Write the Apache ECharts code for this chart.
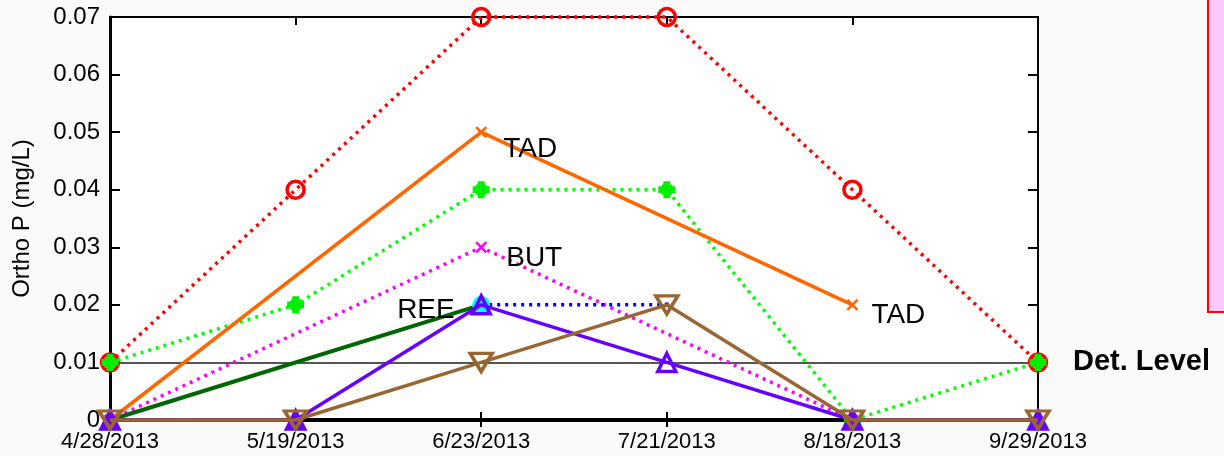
<!DOCTYPE html>
<html>
<head>
<meta charset="utf-8">
<script src="https://cdn.jsdelivr.net/npm/echarts@6/dist/echarts.min.js"></script>
<style>
html,body{margin:0;padding:0;background:#fafafa;}
#c{width:1224px;height:456px;}
</style>
</head>
<body>
<div id="c"></div>
<script>
const categories = ['4/28/2013','5/19/2013','6/23/2013','7/21/2013','8/18/2013','9/29/2013'];
const yTickValues = [0, 0.01, 0.02, 0.03, 0.04, 0.05, 0.06, 0.07];
const redDotted   = [0.01, 0.04, 0.07, 0.07, 0.04, 0.01];
const greenDotted = [0.01, 0.02, 0.04, 0.04, 0, 0.01];
const tadOrange   = [0, null, 0.05, null, 0.02, null];
const butMagenta  = [0, null, 0.03, null, 0, null];
const reeDkGreen  = [0, null, 0.02, null, null, null];
const blueDotted  = [null, null, 0.02, 0.02, null, null];
const purpleSolid = [0, 0, 0.02, 0.01, 0, 0];
const brownSolid  = [0, 0, 0.01, 0.02, 0, 0];
const detLevel = 0.01;
const detLabel = 'Det. Level';
const yName = 'Ortho P (mg/L)';
const tadLabels = {2: 'TAD', 4: 'TAD'};
const butLabels = {2: 'BUT'};
const reeLabels = {2: 'REE'};

const FONT = 'Liberation Sans, Arial, sans-serif';
const xPath = 'path://M1.5,0 L5,3.5 L8.5,0 L10,1.5 L6.5,5 L10,8.5 L8.5,10 L5,6.5 L1.5,10 L0,8.5 L3.5,5 L0,1.5 Z';
const blobPath = 'path://M3,0 H7 V2 L8,2 L8,3 H10 V7 H8 V8 L7,8 V10 H3 V8 L2,8 L2,7 H0 V3 H2 V2 L3,2 Z';

const annLabel = (text, pos, offset) => ({
  show: true, formatter: text, position: pos, distance: 0, offset: offset,
  color: '#000', fontSize: 28, fontFamily: FONT
});

function withLabels(arr, labels, offsets, pos) {
  return arr.map((v, i) => {
    if (v === null) return null;
    if (labels[i]) return {value: v, label: annLabel(labels[i], pos, offsets[i])};
    return v;
  });
}

const DOT = [3, 5];

const chart = echarts.init(document.getElementById('c'), null, {renderer: 'canvas'});
const option = {
  backgroundColor: '#fafafa',
  animation: false,
  grid: {left: 110, right: 186, top: 17, bottom: 36, show: true, backgroundColor: '#ffffff', borderWidth: 0},
  xAxis: [
    {type: 'category', data: categories, boundaryGap: false, position: 'bottom',
     axisLine: {lineStyle: {color: '#000', width: 4}},
     axisTick: {show: true, inside: true, length: 8, alignWithLabel: true, lineStyle: {color: '#000', width: 2}},
     axisLabel: {interval: 0, margin: 11, color: '#000', fontSize: 22, fontFamily: FONT},
     splitLine: {show: false}},
    {type: 'category', data: categories, boundaryGap: false, position: 'bottom', gridIndex: 0,
     axisLine: {show: false},
     axisTick: {show: true, inside: false, length: 7, lineStyle: {color: '#000', width: 2}},
     axisLabel: {show: false}, splitLine: {show: false}},
    {type: 'category', data: categories, boundaryGap: false, position: 'top',
     axisLine: {lineStyle: {color: '#000', width: 2}},
     axisTick: {show: true, inside: true, length: 8, lineStyle: {color: '#000', width: 2}},
     axisLabel: {show: false}, splitLine: {show: false}}
  ],
  yAxis: [
    {type: 'value', min: 0, max: 0.07, interval: 0.01, position: 'left',
     name: yName, nameLocation: 'middle', nameGap: 76, nameRotate: 90,
     nameTextStyle: {color: '#000', fontSize: 24, fontFamily: FONT},
     axisLine: {show: true, lineStyle: {color: '#000', width: 3}},
     axisTick: {show: true, inside: true, length: 10, lineStyle: {color: '#000', width: 2}},
     axisLabel: {margin: 10, color: '#000', fontSize: 24, fontFamily: FONT,
       formatter: v => { const t = yTickValues.find(x => Math.abs(x - v) < 1e-9); return t === 0 ? '0' : (t !== undefined ? t.toFixed(2) : ''); }},
     splitLine: {show: false}},
    {type: 'value', min: 0, max: 0.07, interval: 0.01, position: 'right',
     axisLine: {show: true, lineStyle: {color: '#000', width: 2}},
     axisTick: {show: true, inside: true, length: 10, lineStyle: {color: '#000', width: 2}},
     axisLabel: {show: false}, splitLine: {show: false}}
  ],
  graphic: [
    {type: 'rect', shape: {x: 1208, y: -5, width: 30, height: 317},
     style: {fill: '#fdc9fb', stroke: '#ff0000', lineWidth: 2}}
  ],
  series: [
    {type: 'line', name: 'red', data: redDotted, clip: false, z: 2,
     lineStyle: {color: '#ff0000', width: 3.5, type: DOT},
     symbol: 'circle', symbolSize: 17,
     itemStyle: {color: 'rgba(255,255,255,0)', borderColor: '#ff0000', borderWidth: 3.5},
     markLine: {silent: true, symbol: ['none', 'none'], z: 1,
       lineStyle: {color: '#555555', width: 2, type: 'solid'},
       label: {show: true, position: 'end', distance: 35, formatter: detLabel,
         color: '#000', fontSize: 29, fontWeight: 'bold', fontFamily: FONT},
       data: [{yAxis: detLevel}]}},
    {type: 'line', name: 'green', data: greenDotted, clip: false, z: 3,
     lineStyle: {color: '#00ff00', width: 3.5, type: DOT},
     symbol: blobPath, symbolSize: 17,
     itemStyle: {color: '#00ee00'}},
    {type: 'line', name: 'TAD', connectNulls: true, clip: false, z: 4,
     data: withLabels(tadOrange, tadLabels, {2: [16, 17], 4: [13, 10]}, 'right'),
     lineStyle: {color: '#ff6600', width: 3.5},
     symbol: xPath, symbolSize: 12,
     itemStyle: {color: '#ff6600'}},
    {type: 'line', name: 'BUT', connectNulls: true, clip: false, z: 5,
     data: withLabels(butMagenta, butLabels, {2: [19, 11]}, 'right'),
     lineStyle: {color: '#ff00ff', width: 3.5, type: DOT},
     symbol: xPath, symbolSize: 12,
     itemStyle: {color: '#ff00ff'}},
    {type: 'line', name: 'REE', connectNulls: true, clip: false, z: 6,
     data: withLabels(reeDkGreen, reeLabels, {2: [-26, 5]}, 'left'),
     lineStyle: {color: '#006600', width: 4},
     symbol: 'circle', symbolSize: 1,
     itemStyle: {color: '#006600'}},
    {type: 'line', name: 'blue', clip: false, z: 7,
     data: blueDotted.map((v, i) => (v !== null && i === 3) ? {value: v, symbolSize: 5, itemStyle: {color: '#0000ff'}} : v),
     lineStyle: {color: '#0000ff', width: 3.5, type: DOT},
     symbol: 'circle', symbolSize: 18,
     itemStyle: {color: '#00ffff'}},
    {type: 'line', name: 'purple', clip: false, z: 8,
     data: purpleSolid.map(v => v === 0 ? {value: v, itemStyle: {color: '#6600ff'}} : v),
     lineStyle: {color: '#6600ff', width: 3.5},
     symbol: 'triangle', symbolSize: 18,
     itemStyle: {color: 'rgba(255,255,255,0)', borderColor: '#6600ff', borderWidth: 3.5}},
    {type: 'line', name: 'brown', data: brownSolid, clip: false, z: 9,
     lineStyle: {color: '#996633', width: 3.5},
     symbol: 'triangle', symbolRotate: 180, symbolSize: [22, 18],
     itemStyle: {color: 'rgba(255,255,255,0)', borderColor: '#996633', borderWidth: 3.5}}
  ]
};
chart.setOption(option);
</script>
</body>
</html>
